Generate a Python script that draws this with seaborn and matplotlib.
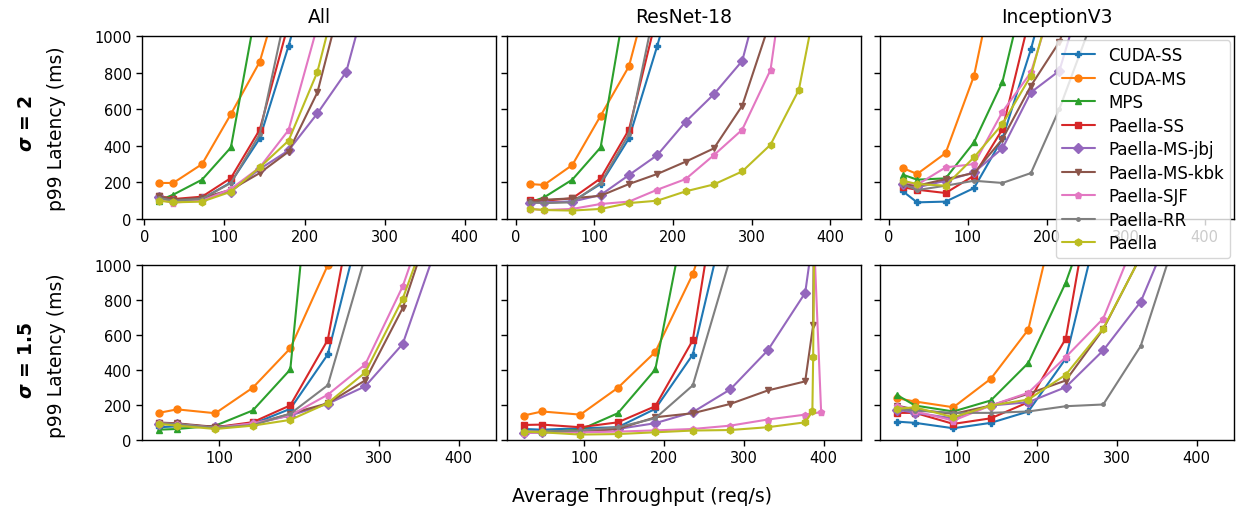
import numpy as np
import pandas as pd
import matplotlib
matplotlib.use("Agg")
import matplotlib.pyplot as plt
import seaborn as sns

methods = ["CUDA-SS", "CUDA-MS", "MPS", "Paella-SS", "Paella-MS-jbj",
           "Paella-MS-kbk", "Paella-SJF", "Paella-RR", "Paella"]
markers = ["P", "o", "^", "s", "D", "v", "p", ".", "h"]
colors = sns.color_palette("tab10", 10)[:9]

col_titles = ["All", "ResNet-18", "InceptionV3"]
row_labels = [r"$\boldsymbol{\sigma}$ = 2", r"$\boldsymbol{\sigma}$ = 1.5"]

# ---- sigma = 2 ----
x_s2 = [18, 36, 72, 108, 144, 180, 216, 252, 288, 324, 360, 396]

all_s2 = {
    "CUDA-SS": [105, 95, 110, 200, 440, 946, 1500],
    "CUDA-MS": [197, 197, 300, 573, 859, 1400],
    "MPS": [100, 133, 215, 391, 1254],
    "Paella-SS": [127, 109, 122, 224, 488, 1070],
    "Paella-MS-jbj": [120, 100, 110, 150, 273, 375, 577, 804, 1387],
    "Paella-MS-kbk": [125, 105, 115, 160, 251, 368, 692, 1303],
    "Paella-SJF": [105, 90, 100, 164, 282, 486, 1054],
    "Paella-RR": [115, 100, 110, 197, 464, 1200],
    "Paella": [100, 91, 95, 149, 282, 428, 804, 1423],
}
resnet_s2 = {
    "CUDA-SS": [95, 90, 95, 191, 440, 946, 1500],
    "CUDA-MS": [191, 186, 295, 564, 834, 1420],
    "MPS": [91, 118, 215, 391, 1300],
    "Paella-SS": [105, 100, 113, 222, 488, 1120],
    "Paella-MS-jbj": [87, 91, 95, 131, 240, 349, 531, 682, 864, 1447],
    "Paella-MS-kbk": [91, 105, 113, 127, 191, 246, 313, 386, 619, 1087],
    "Paella-SJF": [55, 49, 55, 82, 95, 160, 218, 349, 488, 815, 1900],
    "Paella-RR": [91, 87, 91, 197, 464, 1217],
    "Paella": [55, 49, 46, 55, 87, 100, 151, 189, 260, 406, 706, 1500],
}
incep_s2 = {
    "CUDA-SS": [151, 91, 95, 169, 440, 928, 1500],
    "CUDA-MS": [278, 246, 360, 783, 1525],
    "MPS": [242, 215, 222, 419, 750, 1400],
    "Paella-SS": [173, 160, 142, 237, 491, 1130],
    "Paella-MS-jbj": [191, 173, 209, 255, 386, 692, 810, 1330],
    "Paella-MS-kbk": [191, 182, 218, 251, 437, 728, 968, 1400],
    "Paella-SJF": [206, 187, 282, 300, 586, 801, 1300],
    "Paella-RR": [191, 158, 182, 209, 197, 251, 601, 1020, 1400],
    "Paella": [209, 191, 182, 337, 519, 783, 1350],
}

# ---- sigma = 1.5 ----
x_s15 = [24, 47, 95, 142, 189, 236, 283, 330, 377]

all_s15 = {
    "CUDA-SS": [73, 78, 73, 92, 178, 489, 1340],
    "CUDA-MS": [155, 175, 153, 299, 524, 999, 1600],
    "MPS": [59, 63, 82, 169, 403, 2600],
    "Paella-SS": [98, 92, 73, 102, 198, 572, 1713],
    "Paella-MS-jbj": [92, 90, 72, 92, 140, 207, 307, 549, 1166],
    "Paella-MS-kbk": [100, 95, 75, 90, 150, 210, 341, 754, 1400],
    "Paella-SJF": [95, 90, 70, 95, 140, 259, 432, 878, 1500],
    "Paella-RR": [95, 90, 70, 85, 150, 313, 1050],
    "Paella": [92, 82, 63, 82, 115, 211, 386, 807, 1400],
}
resnet_s15 = {
    "CUDA-SS": [63, 59, 67, 73, 178, 488, 1390],
    "CUDA-MS": [140, 163, 145, 298, 503, 948, 1600],
    "MPS": [44, 44, 59, 153, 403, 1500],
    "Paella-SS": [86, 88, 73, 101, 193, 570, 1900],
    "Paella-MS-jbj": [40, 44, 48, 63, 96, 159, 289, 512, 841, 1200],
    "Paella-MS-kbk": [48, 48, 48, 63, 130, 153, 206, 283, 335, 656, 1300],
    "Paella-SJF": [40, 44, 44, 48, 55, 63, 82, 117, 145, 159, 1600],
    "Paella-RR": [48, 48, 54, 73, 124, 312, 1040],
    "Paella": [48, 44, 31, 34, 44, 54, 57, 73, 101, 163, 474, 1500],
}
# saturated tail throughputs (ResNet-18, sigma = 1.5)
resnet_s15_tail_x = {
    "Paella-MS-jbj": [388],
    "Paella-MS-kbk": [387, 388],
    "Paella-SJF": [397, 384],
    "Paella": [386, 387, 389],
}
incep_s15 = {
    "CUDA-SS": [105, 98, 67, 98, 163, 465, 1350],
    "CUDA-MS": [239, 220, 187, 350, 631, 1535],
    "MPS": [258, 197, 163, 226, 440, 900, 1500],
    "Paella-SS": [155, 155, 92, 124, 216, 579, 1800],
    "Paella-MS-jbj": [174, 155, 124, 197, 216, 302, 512, 790, 1300],
    "Paella-MS-kbk": [197, 174, 149, 197, 264, 340, 633, 1050],
    "Paella-SJF": [197, 163, 111, 197, 270, 474, 694, 1220],
    "Paella-RR": [178, 168, 155, 155, 163, 193, 203, 537, 1200],
    "Paella": [178, 187, 130, 197, 231, 373, 637, 1048],
}

panels = [
    (all_s2, x_s2, {}), (resnet_s2, x_s2, {}), (incep_s2, x_s2, {}),
    (all_s15, x_s15, {}), (resnet_s15, x_s15, resnet_s15_tail_x), (incep_s15, x_s15, {}),
]
xlims = [(-3, 439), (-11, 439), (-11, 437), (3, 447), (3, 447), (3, 447)]


def to_frame(series, xs, tails):
    rows = []
    for m in methods:
        ys = series[m]
        xx = list(xs[:len(ys)])
        if m in tails:
            xx = list(xs[:len(ys) - len(tails[m])]) + tails[m]
        for a, b in zip(xx, ys):
            rows.append({"x": a, "y": b, "method": m})
    return pd.DataFrame(rows)


sns.set_style("ticks")
plt.rcParams["font.family"] = ["DejaVu Sans"]
for k in ["text.color", "axes.labelcolor", "xtick.color", "ytick.color", "axes.edgecolor"]:
    plt.rcParams[k] = "black"

fig = plt.figure(figsize=(12.36, 5.1), dpi=100)
W, H = 1236, 510
lefts = [142, 507, 880]
width = 354
tops = [37, 266]
heights = [183, 175]

axes = []
for r in range(2):
    for c in range(3):
        ax = fig.add_axes([lefts[c] / W, 1 - (tops[r] + heights[r]) / H,
                           width / W, heights[r] / H])
        axes.append(ax)

pal = dict(zip(methods, colors))
mk = dict(zip(methods, markers))

for i, (ax, (series, xs, tails)) in enumerate(zip(axes, panels)):
    df = to_frame(series, xs, tails)
    sns.lineplot(data=df, x="x", y="y", hue="method", style="method",
                 hue_order=methods, style_order=methods, palette=pal,
                 markers=mk, dashes=False, sort=False, estimator=None,
                 markersize=5, linewidth=1.5,
                 legend=(i == 2), ax=ax)
    for ln in ax.lines:
        ln.set_markeredgecolor(ln.get_color())
        ln.set_markeredgewidth(1.0)
    ax.set_xticks([0, 100, 200, 300, 400])
    ax.set_yticks([0, 200, 400, 600, 800, 1000])
    ax.set_ylim(0, 1000)
    ax.set_xlim(*xlims[i])
    ax.tick_params(labelsize=10.5, width=1, length=4, color="black")
    for s in ax.spines.values():
        s.set_linewidth(1.0)
    ax.set_xlabel("")
    ax.set_ylabel("")
    if i % 3 != 0:
        ax.set_yticklabels([])
    if i < 3:
        ax.set_title(col_titles[i], fontsize=13.5, pad=10)

handles, labels = axes[2].get_legend_handles_labels()
for h in handles:
    h.set_markeredgecolor(h.get_color())
    h.set_markeredgewidth(1.0)
axes[2].set_zorder(10)
axes[2].legend(handles, labels, loc="upper right", fontsize=12,
               frameon=True, framealpha=0.8, borderaxespad=0.25,
               labelspacing=0.33, borderpad=0.35)

fig.text(642 / W, 1 - 497 / H, "Average Throughput (req/s)", ha="center",
         va="center", fontsize=13.5)
for r, (cy_lab, cy_sig) in enumerate([(129, 124), (356, 360)]):
    fig.text(57 / W, 1 - cy_lab / H, "p99 Latency (ms)", rotation=90,
             ha="center", va="center", fontsize=13.5)
    fig.text(27 / W, 1 - cy_sig / H, row_labels[r], rotation=90,
             ha="center", va="center", fontsize=13.5, fontweight="bold")

fig.savefig("out.png", dpi=100)
